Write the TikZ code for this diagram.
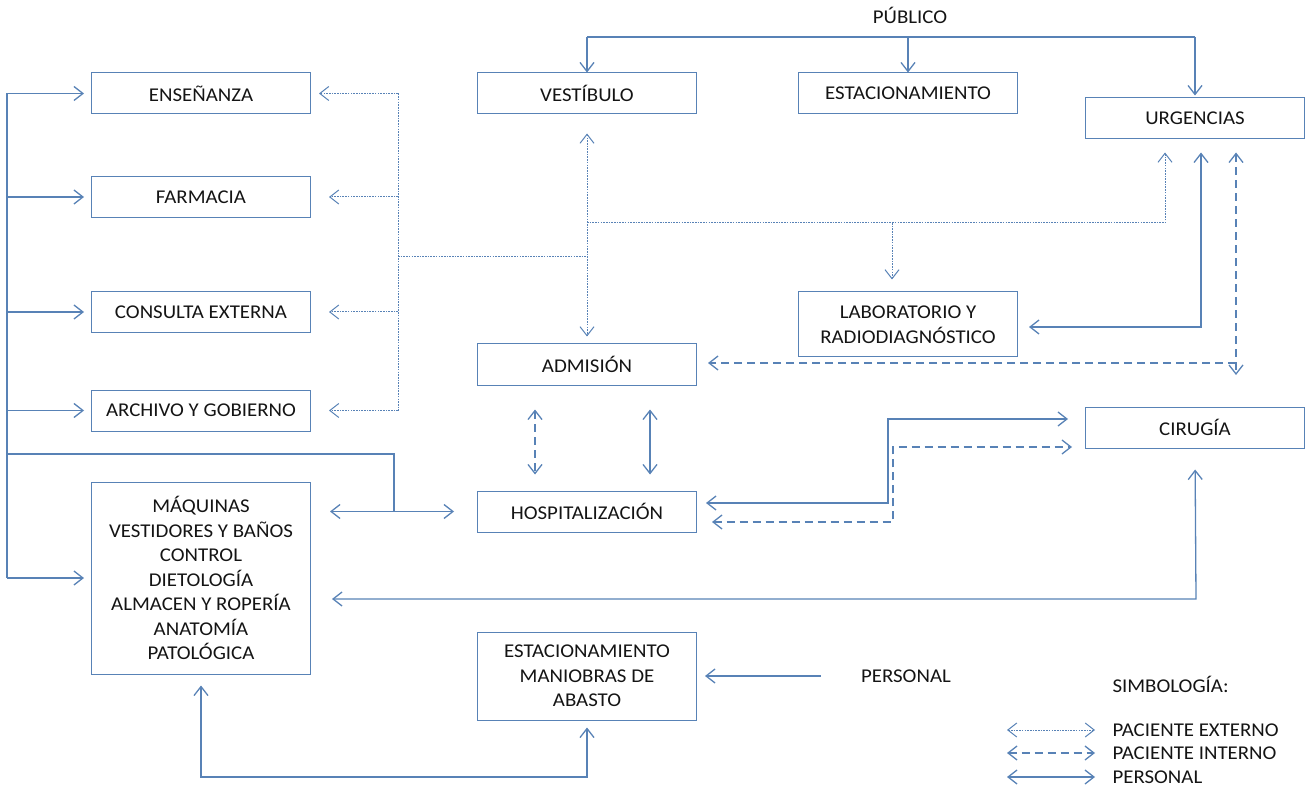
\documentclass[tikz,border=0pt]{standalone}
\usepackage{fontspec}
\setmainfont{Carlito}[FakeStretch=1.07]
\usetikzlibrary{arrows.meta}
\definecolor{linea}{RGB}{88,130,182}
\definecolor{texto}{RGB}{20,20,20}
\begin{document}
\begin{tikzpicture}[x=1pt, y=-1pt,
    area/.style={draw=linea, line width=1pt, minimum width=219pt, minimum height=41pt, inner sep=0pt, align=center, text=texto, font=\fontsize{19.5}{24.5}\selectfont},
    txt/.style={text=texto, font=\fontsize{19.5}{24.5}\selectfont},
    per/.style={draw=linea, line width=1.3pt, >={Straight Barb[length=9pt,width=14pt]}},
    ext/.style={per, line width=1pt, dash pattern=on 1.6pt off 1.1pt},
    int/.style={per, dash pattern=on 8pt off 5pt}]
    \useasboundingbox (0,0) rectangle (1306,791);

        \node[area] (ens) at (201, 93.5) {ENSEÑANZA};
        \node[area] (far) at (201, 197) {FARMACIA};
        \node[area] (con) at (201, 312) {CONSULTA EXTERNA};
        \node[area] (arc) at (201, 410.5) {ARCHIVO Y GOBIERNO};
        \node[area, minimum height=192pt] (maq) at (201, 578) {MÁQUINAS\\VESTIDORES Y BAÑOS\\CONTROL\\DIETOLOGÍA\\ALMACEN Y ROPERÍA\\ANATOMÍA\\PATOLÓGICA};
        \node[area] (ves) at (587, 93.5) {VESTÍBULO};
        \node[area] (est) at (908, 93.5) {ESTACIONAMIENTO};
        \node[area] (urg) at (1195, 118.5) {URGENCIAS};
        \node[area, minimum height=65pt] (lab) at (908, 324.5) {LABORATORIO Y\\RADIODIAGNÓSTICO};
        \node[area] (adm) at (587, 364.5) {ADMISIÓN};
        \node[area] (hos) at (587, 511.5) {HOSPITALIZACIÓN};
        \node[area] (cir) at (1195, 427.5) {CIRUGÍA};
        \node[area, minimum height=88pt] (man) at (587, 676) {ESTACIONAMIENTO\\MANIOBRAS DE\\ABASTO};
        \node[txt] (pub) at (910, 15) {PÚBLICO};
        \node[txt] (pers) at (906, 676) {PERSONAL};
        \node[txt, anchor=west] (simb) at (1109, 684) {SIMBOLOGÍA:};
        \node[txt, anchor=west] (lext) at (1109, 730) {PACIENTE EXTERNO};
        \node[txt, anchor=west] (lint) at (1109, 753) {PACIENTE INTERNO};
        \node[txt, anchor=west] (lper) at (1109, 777) {PERSONAL};

        \coordinate (pl) at (587, 37);
        \coordinate (pr) at (1195, 37);
        \draw[per] (pl) -- (pr);
        \draw[per,->] (pl) -- (ves.north);
        \draw[per,->] (est.north |- pl) -- (est.north);
        \draw[per,->,shorten >=2pt] (pr) -- (urg.north);

        \coordinate (bt) at (7, 93.5);
        \coordinate (bb) at (7, 578);
        \coordinate (bk) at (394, 454);
        \draw[per] (bt) -- (bb);
        \foreach \n in {ens,far,con,arc,maq}
            \draw[per,->,shorten >=7pt] (bt |- \n.west) -- (\n.west);
        \draw[per] (bt |- bk) -| (bk |- hos.west);
        \draw[per,<->,shorten <=19pt,shorten >=23pt] (maq.east |- hos.west) -- (hos.west);

        \coordinate (et) at (398, 93.5);
        \coordinate (ev) at (587, 257);
        \coordinate (eu) at (587, 223);
        \coordinate (eur) at (1165, 223);
        \coordinate (el) at (892, 223);
        \draw[ext] (et) -- (et |- arc.east);
        \draw[ext,->,shorten >=8pt] (et) -- (ens.east);
        \foreach \n in {far,con,arc}
            \draw[ext,->,shorten >=18pt] (et |- \n.east) -- (\n.east);
        \draw[ext] (et |- ev) -- (ev);
        \draw[ext,<->,shorten <=19pt,shorten >=7pt] (ves.south) -- (adm.north);
        \draw[ext,->,shorten >=13pt] (eu) -- (eur) -- (eur |- urg.south);
        \draw[ext,->,shorten >=12pt] (el) -- (el |- lab.north);

        \coordinate (ul) at (1201, 327);
        \draw[per,<->,shorten <=11pt,shorten >=13pt] (lab.east |- ul) -- (ul) -- (ul |- urg.south);

        \coordinate (ua) at (1236, 363);
        \coordinate (uc) at (1236, 375);
        \draw[int,<->,shorten <=13pt] (ua |- urg.south) -- (uc);
        \draw[int,->,shorten >=11pt] (ua) -- (adm.east |- ua);

        \draw[int,<->,shorten <=24pt,shorten >=16pt] ([xshift=-52pt]adm.south) -- ([xshift=-52pt]hos.north);
        \draw[per,<->,shorten <=24pt,shorten >=16pt] ([xshift=63pt]adm.south) -- ([xshift=63pt]hos.north);

        \coordinate (hc) at (888, 503);
        \coordinate (hd) at (893, 522);
        \draw[per,<->,shorten <=9pt,shorten >=17pt] (hos.east |- hc) -- (hc) |- ([yshift=8.5pt]cir.west);
        \draw[int,<->,shorten <=15pt,shorten >=13pt] (hos.east |- hd) -- (hd) |- ([yshift=-19.5pt]cir.west);

        \coordinate (cm) at (1196, 599);
        \draw[per,<->,shorten <=21pt,shorten >=21pt] (cir.south) -- (cm) -- (maq.east |- cm);

        \draw[per,->,shorten <=37pt,shorten >=8pt] (pers.west) -- (man.east);

        \coordinate (mm) at (0, 777);
        \draw[per,<->,shorten <=11pt,shorten >=7pt] (maq.south) -- (maq.south |- mm) -| (man.south);

        \draw[ext,<->,shorten >=14pt] ([xshift=-102pt]lext.west) -- (lext.west);
        \draw[int,<->,shorten >=14pt] ([xshift=-102pt]lint.west) -- (lint.west);
        \draw[per,<->,shorten >=14pt] ([xshift=-102pt]lper.west) -- (lper.west);

    \end{tikzpicture}
\end{document}
